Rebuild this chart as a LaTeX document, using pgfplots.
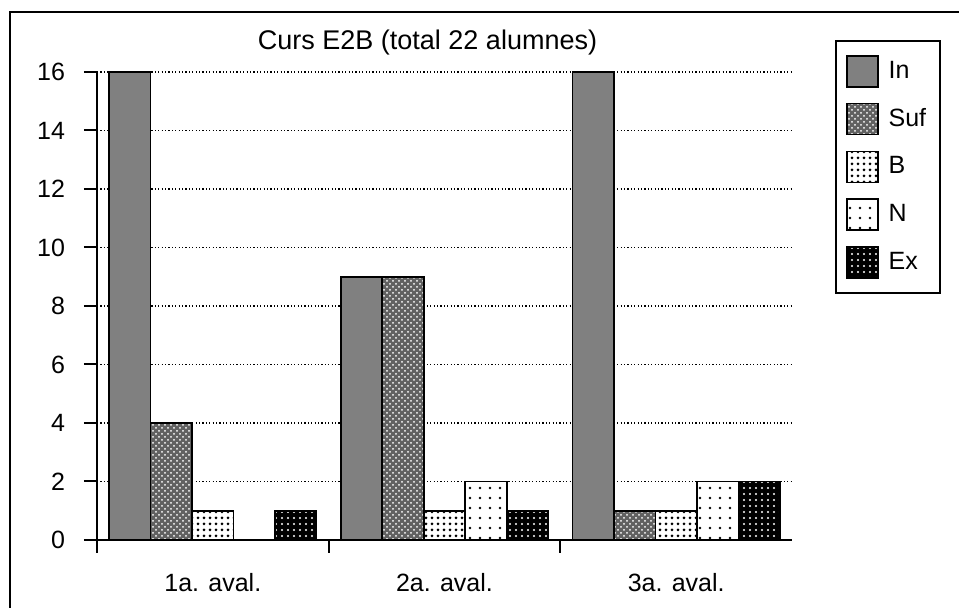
\documentclass[border=0pt]{standalone}
\usepackage{pgfplots}
\pgfplotsset{compat=1.18}
\usetikzlibrary{patterns,patterns.meta}
\usepackage{fontspec}
\setmainfont{Liberation Sans}
\begin{document}
\begin{tikzpicture}[x=1pt,y=1pt]
\useasboundingbox (0,0) rectangle (479.5,304);
\fill[white] (0,0) rectangle (479.5,304);
\draw[line width=1pt] (5,-5) -- (5,298) -- (485,298);
\begin{axis}[
  at={(48.5pt,34pt)}, anchor=south west,
  scale only axis, width=347.5pt, height=234pt,
  ybar=0pt, bar width=20.75pt,
  xmin=-0.5, xmax=2.5, ymin=0, ymax=16,
  ytick={0,2,...,16},
  xtick={-0.5,0.5,1.5},
  xticklabels={},
  extra x ticks={0,1,2},
  extra x tick labels={1a. aval.,2a. aval.,3a. aval.},
  extra x tick style={major tick length=0pt, xticklabel style={yshift=-13pt}},
  axis x line*=bottom, axis y line*=left,
  axis line style={line width=1pt, -},
  tick align=outside, major tick length=6.5pt,
  tick style={line width=1pt, black},
  ymajorgrids, grid style={black, line width=0.7pt, dash pattern=on 0.6pt off 1.1pt},
  /pgf/number format/assume math mode=true,
  tick label style={font=\fontsize{12.5}{15}\selectfont},
  yticklabel style={xshift=-6pt},
  legend style={at={(1.0619,1.0684)}, anchor=north west, draw=black, line width=1pt,
    inner xsep=5pt, inner ysep=7pt, row sep=7.6pt,
    font=\fontsize{12.5}{15}\selectfont, cells={anchor=west},
    /tikz/every odd column/.append style={column sep=3pt}},
  legend image code/.code={\draw[#1] (0pt,-7.75pt) rectangle (15.5pt,7.75pt);},
]
\addplot[draw=black, line width=0.8pt, fill=black!50] coordinates {(0,16) (1,9) (2,16)};
\addplot[draw=black, line width=0.8pt, preaction={fill=black!62}, pattern=crosshatch dots, pattern color=white] coordinates {(0,4) (1,9) (2,1)};
\addplot[draw=black, line width=0.8pt, preaction={fill=white}, pattern={Dots[distance=3pt, radius=0.75pt]}, pattern color=black] coordinates {(0,1) (1,1) (2,1)};
\addplot[draw=black, line width=0.8pt, preaction={fill=white}, pattern={Dots[distance=5pt, radius=0.65pt]}, pattern color=black] coordinates {(1,2) (2,2)};
\addplot[draw=black, line width=0.8pt, preaction={fill=black}, pattern={Dots[distance=3pt, radius=0.6pt]}, pattern color=white] coordinates {(0,1) (1,1) (2,2)};
\legend{In,Suf,B,N,Ex}
\end{axis}
\node[anchor=base, font=\fontsize{13.5}{16}\selectfont] at (213.75,279) {Curs E2B (total 22 alumnes)};
\end{tikzpicture}
\end{document}
